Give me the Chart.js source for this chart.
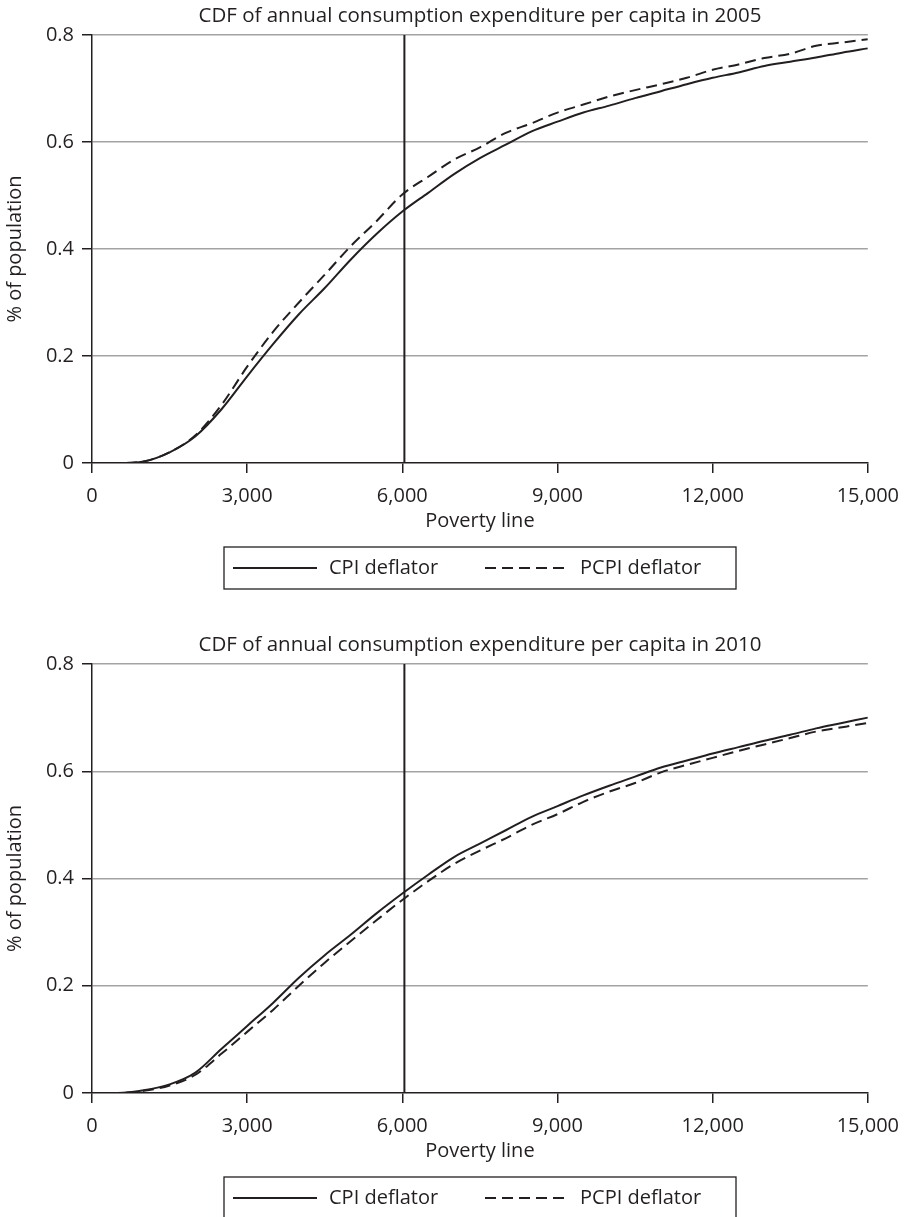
<!DOCTYPE html>
<html>
<head>
<meta charset="utf-8">
<script src="https://cdn.jsdelivr.net/npm/chart.js@4.4.1/dist/chart.umd.min.js"></script>
<style>
    body { margin: 0; background: #fff; }
    .chart-block { position: absolute; left: 0; width: 910px; }
</style>
</head>
<body>
<div class="chart-block" style="top:0"><canvas id="chart2005" width="910" height="629"></canvas></div>
<div class="chart-block" style="top:629px"><canvas id="chart2010" width="910" height="588"></canvas></div>
<script>
// poverty line (x) and share of population below it (y)
const povertyLine = [0, 500, 1000, 1500, 2000, 2500, 3000, 3500, 4000, 4500, 5000, 5500, 6000, 6500, 7000,
    7500, 8000, 8500, 9000, 9500, 10000, 10500, 11000, 11500, 12000, 12500, 13000, 13500, 14000, 14500, 15000];

const cpi2005 = [0, 0, 0.003, 0.02, 0.05, 0.1, 0.162, 0.222, 0.278, 0.327, 0.38, 0.428, 0.47, 0.505, 0.54,
    0.57, 0.595, 0.62, 0.638, 0.655, 0.668, 0.682, 0.695, 0.708, 0.72, 0.73, 0.742, 0.75, 0.758, 0.767, 0.775];
const pcpi2005 = [0, 0, 0.003, 0.02, 0.052, 0.108, 0.18, 0.245, 0.3, 0.352, 0.405, 0.452, 0.502, 0.535, 0.567,
    0.59, 0.617, 0.635, 0.655, 0.67, 0.685, 0.697, 0.708, 0.72, 0.735, 0.745, 0.757, 0.765, 0.78, 0.786, 0.792];

const cpi2010 = [0, 0, 0.005, 0.016, 0.038, 0.082, 0.125, 0.168, 0.215, 0.257, 0.295, 0.335, 0.372, 0.407, 0.44,
    0.465, 0.49, 0.515, 0.535, 0.555, 0.573, 0.59, 0.607, 0.62, 0.633, 0.645, 0.657, 0.668, 0.68, 0.69, 0.7];
const pcpi2010 = [0, 0, 0.004, 0.014, 0.034, 0.073, 0.114, 0.155, 0.2, 0.243, 0.283, 0.322, 0.36, 0.395, 0.427,
    0.452, 0.475, 0.5, 0.52, 0.543, 0.562, 0.578, 0.598, 0.612, 0.625, 0.638, 0.65, 0.662, 0.674, 0.682, 0.69];

const cutoffLine = 6040;
const xTicks = [0, 3000, 6000, 9000, 12000, 15000];
const yTicks = [0, 0.2, 0.4, 0.6, 0.8];
const seriesLabels = ['CPI deflator', 'PCPI deflator'];

const ink = '#231f20';
const gridGrey = '#a3a3a3';
const fontFamily = '"Open Sans", "Noto Sans", sans-serif';

Chart.defaults.font.family = fontFamily;
Chart.defaults.color = ink;

// centre the chart title over the plot area instead of the whole canvas
const centerTitle = {
    id: 'centerTitle',
    afterLayout(chart) {
        if (chart.titleBlock) {
            chart.titleBlock.left = chart.chartArea.left;
            chart.titleBlock.right = chart.chartArea.right;
        }
    }
};

// legend drawn inside a framed box under the axis title
const framedLegend = {
    id: 'framedLegend',
    afterDraw(chart) {
        const ctx = chart.ctx;
        const top = chart.chartArea.bottom + 84;
        const left = 224;
        const mid = top + 21;
        ctx.save();
        ctx.strokeStyle = ink;
        ctx.lineWidth = 1.3;
        ctx.strokeRect(left, top, 512, 42);

        const items = chart.data.datasets.filter((d) => d.label);
        const slots = [{line: 9, len: 84, text: 105}, {line: 261, len: 79, text: 356}];
        items.forEach((d, i) => {
            const s = slots[i];
            ctx.beginPath();
            ctx.setLineDash(d.borderDash || []);
            ctx.lineWidth = 2;
            ctx.strokeStyle = d.borderColor;
            ctx.moveTo(left + s.line, mid);
            ctx.lineTo(left + s.line + s.len, mid);
            ctx.stroke();
            ctx.setLineDash([]);
            ctx.fillStyle = ink;
            ctx.font = '20px ' + fontFamily;
            ctx.textBaseline = 'middle';
            ctx.textAlign = 'left';
            ctx.fillText(d.label, left + s.text, mid);
        });
        ctx.restore();
    }
};

function makeChart(id, title, cpi, pcpi, bottomPad) {
    const ctx = document.getElementById(id).getContext('2d');
    return new Chart(ctx, {
        type: 'line',
        data: {
            datasets: [
                {
                    label: seriesLabels[0],
                    data: povertyLine.map((x, i) => ({x: x, y: cpi[i]})),
                    borderColor: ink,
                    borderWidth: 2,
                    pointRadius: 0,
                    cubicInterpolationMode: 'monotone',
                    fill: false
                },
                {
                    label: seriesLabels[1],
                    data: povertyLine.map((x, i) => ({x: x, y: pcpi[i]})),
                    borderColor: ink,
                    borderWidth: 2,
                    borderDash: [11, 6],
                    pointRadius: 0,
                    cubicInterpolationMode: 'monotone',
                    fill: false
                },
                {
                    label: '',
                    data: [{x: cutoffLine, y: yTicks[0]}, {x: cutoffLine, y: yTicks[yTicks.length - 1]}],
                    borderColor: ink,
                    borderWidth: 2,
                    pointRadius: 0,
                    fill: false
                }
            ]
        },
        options: {
            responsive: false,
            animation: false,
            devicePixelRatio: 1,
            layout: {padding: {left: 0, right: 42, top: 0, bottom: bottomPad}},
            scales: {
                x: {
                    type: 'linear',
                    min: 0,
                    max: 15000,
                    afterBuildTicks: (scale) => { scale.ticks = xTicks.map((v) => ({value: v})); },
                    afterFit: (scale) => { scale.height = 70; },
                    ticks: {
                        padding: 11,
                        font: {size: 20},
                        color: ink,
                        maxRotation: 0,
                        callback: (v) => Number(v).toLocaleString('en-US')
                    },
                    grid: {drawOnChartArea: false, tickLength: 10, tickColor: ink, lineWidth: 1.5},
                    border: {display: true, color: ink, width: 1.5},
                    title: {display: true, text: 'Poverty line', font: {size: 20, lineHeight: 1.2}, color: ink, padding: 0}
                },
                y: {
                    min: 0,
                    max: 0.8,
                    afterBuildTicks: (scale) => { scale.ticks = yTicks.map((v) => ({value: v})); },
                    afterFit: (scale) => { scale.width = 92; },
                    ticks: {
                        padding: 8,
                        font: {size: 20},
                        color: ink,
                        callback: (v) => (v === 0 ? '0' : Number(v).toFixed(1))
                    },
                    grid: {
                        color: (c) => (c.tick && c.tick.value === 0 ? 'rgba(0,0,0,0)' : gridGrey),
                        tickColor: ink,
                        tickLength: 10,
                        lineWidth: 1.5
                    },
                    border: {display: true, color: ink, width: 1.5},
                    title: {display: true, text: '% of population', font: {size: 20, lineHeight: 1.2}, color: ink, padding: {top: 3, bottom: 0}}
                }
            },
            plugins: {
                legend: {display: false},
                tooltip: {enabled: false},
                title: {
                    display: true,
                    text: title,
                    color: ink,
                    font: {size: 20.5, weight: 'normal', lineHeight: 1.2},
                    padding: {top: 4.2, bottom: 6.2}
                }
            }
        },
        plugins: [centerTitle, framedLegend]
    });
}

makeChart('chart2005', 'CDF of annual consumption expenditure per capita in 2005', cpi2005, pcpi2005, 96);
makeChart('chart2010', 'CDF of annual consumption expenditure per capita in 2010', cpi2010, pcpi2010, 54);
</script>
</body>
</html>
